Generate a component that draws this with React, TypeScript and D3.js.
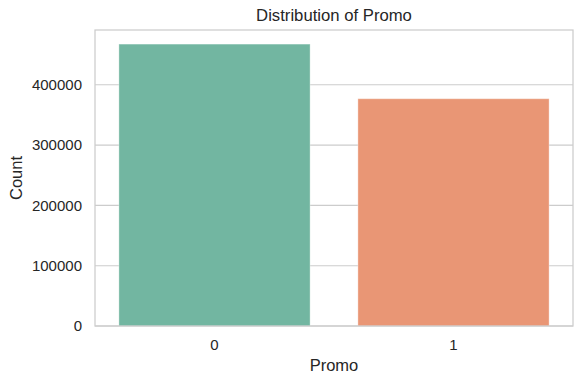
import React from "react";
import * as d3 from "d3";

const categories = ["0", "1"];
const counts = [467496, 376896];
const colors = ["#72b6a1", "#e99675"];
const yTicks = [0, 100000, 200000, 300000, 400000];

const W = 584, H = 384;
const M = { left: 95, right: 573, top: 30, bottom: 326 };
const FONT = "'Liberation Sans', Arial, sans-serif";
const TXT = "#262626";

export default function App() {
  const x = d3.scaleBand().domain(categories).range([M.left, M.right]).paddingInner(0.2).paddingOuter(0.1);
  const y = d3.scaleLinear().domain([0, 467496 * 1.05]).range([M.bottom, M.top]);
  return (
    <svg width={W} height={H} style={{ position: "absolute", left: 0, top: 0, background: "#fff" }} fontFamily={FONT}>
      {yTicks.map((t) => (
        <g key={t}>
          <line x1={M.left} x2={M.right} y1={y(t)} y2={y(t)} stroke="#cccccc" strokeWidth={1.1} />
          <text x={M.left - 13} y={y(t)} dy="0.35em" textAnchor="end" fontSize={15} fill={TXT}>{t}</text>
        </g>
      ))}
      {categories.map((c, i) => (
        <g key={c}>
          <rect x={x(c)} y={y(counts[i])} width={x.bandwidth()} height={M.bottom - y(counts[i])} fill={colors[i]} stroke="#ffffff" strokeOpacity={0.35} strokeWidth={1} />
          <text x={(x(c) as number) + x.bandwidth() / 2} y={M.bottom + 24} textAnchor="middle" fontSize={15} fill={TXT}>{c}</text>
        </g>
      ))}
      <rect x={M.left} y={M.top} width={M.right - M.left} height={M.bottom - M.top} fill="none" stroke="#cccccc" strokeWidth={1.25} />
      <text x={(M.left + M.right) / 2} y={21} textAnchor="middle" fontSize={16.7} fill={TXT}>Distribution of Promo</text>
      <text x={(M.left + M.right) / 2} y={371} textAnchor="middle" fontSize={16.5} fill={TXT}>Promo</text>
      <text transform={`translate(22, ${(M.top + M.bottom) / 2}) rotate(-90)`} textAnchor="middle" fontSize={16.5} fill={TXT}>Count</text>
    </svg>
  );
}
